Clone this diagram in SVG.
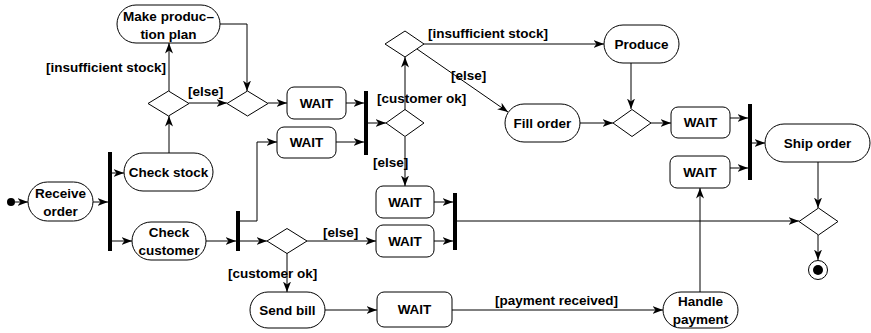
<svg xmlns="http://www.w3.org/2000/svg" width="871" height="333" viewBox="0 0 871 333">
<style>
.n{fill:#fff;stroke:#000;stroke-width:1}
.t{font-family:"Liberation Sans",Arial,sans-serif;font-weight:bold;font-size:13.5px;fill:#000;text-anchor:middle}
.l{font-family:"Liberation Sans",Arial,sans-serif;font-weight:bold;font-size:13.5px;fill:#000}
.c{fill:none;stroke:#000;stroke-width:1}
.a{marker-end:url(#ar)}
.b{fill:#000}
</style>
<defs>
<marker id="ar" markerUnits="userSpaceOnUse" markerWidth="11" markerHeight="10" viewBox="0 0 11 10" refX="10.5" refY="5" orient="auto">
<path d="M0,1 L10.5,5 L0,9 L3,5 Z" fill="#000"/>
</marker>
</defs>
<rect width="871" height="333" fill="#fff"/>
<g id="connectors">
<path class="c a" d="M15,202 H28"/>
<path class="c a" d="M93,202 H108"/>
<path class="c a" d="M112,173 H124"/>
<path class="c a" d="M112,241 H132"/>
<path class="c a" d="M169,153 V116"/>
<path class="c a" d="M169,91 V43"/>
<path class="c a" d="M189,103 H227"/>
<path class="c a" d="M220,24 H247 V91"/>
<path class="c a" d="M268,103 H287"/>
<path class="c a" d="M206,241 H236"/>
<path class="c a" d="M240,221 H257 V142 H277"/>
<path class="c a" d="M240,241 H267"/>
<path class="c a" d="M346,103 H364"/>
<path class="c a" d="M336,142 H364"/>
<path class="c a" d="M368,123 H386"/>
<path class="c a" d="M405,110 V57"/>
<path class="c a" d="M405,137 V186"/>
<path class="c a" d="M424,44 H604"/>
<path class="c a" d="M417,49 L508,112"/>
<path class="c a" d="M631,63 V109"/>
<path class="c a" d="M580,123 H613"/>
<path class="c a" d="M651,123 H671"/>
<path class="c a" d="M730,118 H748"/>
<path class="c a" d="M730,168 H748"/>
<path class="c a" d="M752,143 H765"/>
<path class="c a" d="M818,162 V208"/>
<path class="c a" d="M818,235 V260"/>
<path class="c a" d="M457,221 H799"/>
<path class="c a" d="M307,241 H376"/>
<path class="c a" d="M287,253 V292"/>
<path class="c a" d="M325,310 H377"/>
<path class="c a" d="M452,310 H663"/>
<path class="c a" d="M700,292 V188"/>
<path class="c a" d="M434,202 H453"/>
<path class="c a" d="M434,241 H453"/>
<text class="l" x="166" y="72" text-anchor="end">[insufficient stock]</text>
<text class="l" x="188" y="96">[else]</text>
<text class="l" x="377" y="103">[customer ok]</text>
<text class="l" x="373" y="167">[else]</text>
<text class="l" x="428" y="38">[insufficient stock]</text>
<text class="l" x="451" y="80">[else]</text>
<text class="l" x="323" y="237">[else]</text>
<text class="l" x="228" y="278">[customer ok]</text>
<text class="l" x="495" y="305">[payment received]</text>
</g>
<g id="init"><circle cx="11" cy="202" r="4" class="b"/></g>
<g id="receive"><rect class="n" x="28" y="182" width="65" height="39" rx="19.5"/><text class="t" x="60.5" y="198">Receive</text><text class="t" x="60.5" y="216">order</text></g>
<g id="fork1"><rect class="b" x="108" y="152" width="4" height="99"/></g>
<g id="checkstock"><rect class="n" x="124" y="153" width="89" height="38" rx="19"/><text class="t" x="168.5" y="177">Check stock</text></g>
<g id="checkcustomer"><rect class="n" x="132" y="222" width="74" height="38" rx="19"/><text class="t" x="169" y="237">Check</text><text class="t" x="169" y="255">customer</text></g>
<g id="plan"><rect class="n" x="117" y="5" width="103" height="38" rx="19"/><text class="t" x="168.5" y="21">Make produc–</text><text class="t" x="168.5" y="39">tion plan</text></g>
<g id="d1"><path class="n" d="M148,103.5 L168.5,91 L189,103.5 L168.5,116 Z"/></g>
<g id="d2"><path class="n" d="M227,103.5 L247.5,91 L268,103.5 L247.5,116 Z"/></g>
<g id="wait1"><rect class="n" x="287" y="87" width="59" height="32" rx="7"/><text class="t" x="316.5" y="108">WAIT</text></g>
<g id="wait2"><rect class="n" x="277" y="127" width="59" height="31" rx="7"/><text class="t" x="306.5" y="147">WAIT</text></g>
<g id="join2"><rect class="b" x="236" y="211" width="4" height="40"/></g>
<g id="d3"><path class="n" d="M267,241 L287,228.5 L307,241 L287,253.5 Z"/></g>
<g id="join4"><rect class="b" x="364" y="91" width="4" height="64"/></g>
<g id="d4"><path class="n" d="M386,123 L405,109.5 L424,123 L405,136.5 Z"/></g>
<g id="d5"><path class="n" d="M385,44 L405,31 L424,44 L405,57 Z"/></g>
<g id="produce"><rect class="n" x="604" y="25" width="75" height="38" rx="19"/><text class="t" x="641.5" y="49">Produce</text></g>
<g id="fillorder"><rect class="n" x="505" y="104" width="75" height="38" rx="19"/><text class="t" x="542.5" y="128">Fill order</text></g>
<g id="d6"><path class="n" d="M613,123 L632,109.5 L651,123 L632,136.5 Z"/></g>
<g id="wait6"><rect class="n" x="671" y="107" width="59" height="31" rx="7"/><text class="t" x="700.5" y="127">WAIT</text></g>
<g id="wait7"><rect class="n" x="670" y="156" width="60" height="32" rx="7"/><text class="t" x="700" y="177">WAIT</text></g>
<g id="join5"><rect class="b" x="748" y="104" width="4" height="76"/></g>
<g id="shiporder"><rect class="n" x="765" y="124" width="105" height="38" rx="19"/><text class="t" x="817.5" y="148">Ship order</text></g>
<g id="wait3"><rect class="n" x="376" y="186" width="58" height="32" rx="7"/><text class="t" x="405" y="207">WAIT</text></g>
<g id="wait4"><rect class="n" x="376" y="225" width="58" height="32" rx="7"/><text class="t" x="405" y="246">WAIT</text></g>
<g id="join3"><rect class="b" x="453" y="193" width="4" height="57"/></g>
<g id="d7"><path class="n" d="M799,221.5 L818.5,208 L838,221.5 L818.5,235 Z"/></g>
<g id="final"><circle cx="818" cy="270" r="9.5" class="n"/><circle cx="818" cy="270" r="5" class="b"/></g>
<g id="sendbill"><rect class="n" x="250" y="292" width="75" height="36" rx="18"/><text class="t" x="287.5" y="315">Send bill</text></g>
<g id="wait5"><rect class="n" x="377" y="292" width="75" height="35" rx="7"/><text class="t" x="414.5" y="314">WAIT</text></g>
<g id="handlepayment"><rect class="n" x="663" y="292" width="75" height="36" rx="18"/><text class="t" x="700.5" y="306">Handle</text><text class="t" x="700.5" y="324">payment</text></g>
</svg>
